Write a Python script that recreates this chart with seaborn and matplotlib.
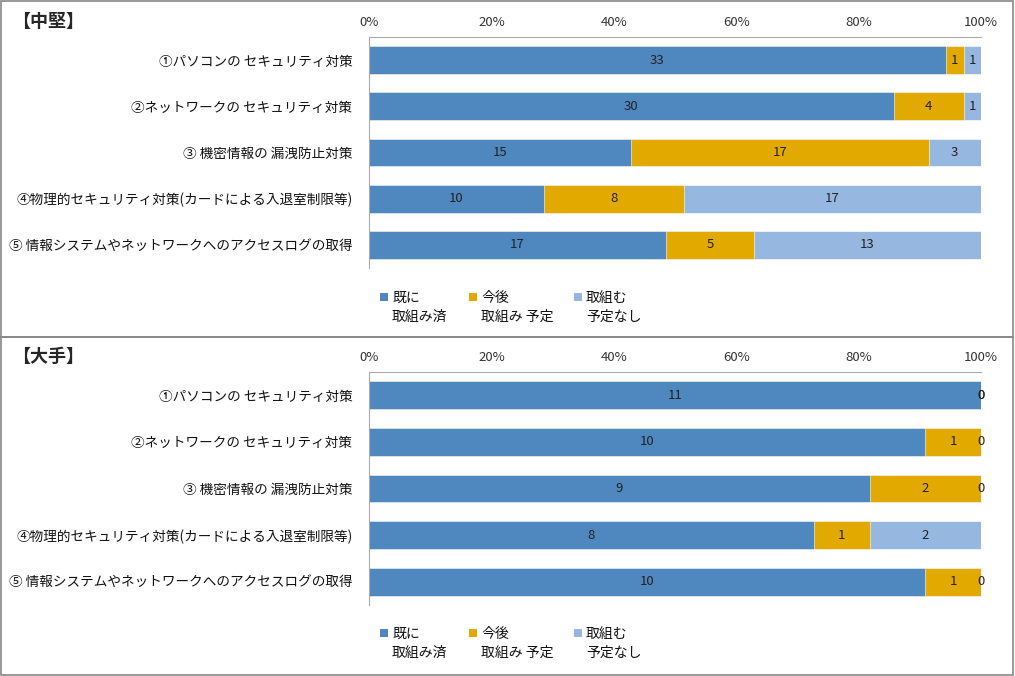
import numpy as np
import pandas as pd
import matplotlib.pyplot as plt
import seaborn as sns
from matplotlib.patches import Rectangle

categories = ["①パソコンの セキュリティ対策",
              "②ネットワークの セキュリティ対策",
              "③ 機密情報の 漏洩防止対策",
              "④物理的セキュリティ対策(カードによる入退室制限等)",
              "⑤ 情報システムやネットワークへのアクセスログの取得"]
series_names = ["既に\n取組み済", "今後\n取組み 予定", "取組む\n予定なし"]
panel_titles = ["【中堅】", "【大手】"]

mid_done = [33, 30, 15, 10, 17]
mid_plan = [1, 4, 17, 8, 5]
mid_none = [1, 1, 3, 17, 13]

big_done = [11, 10, 9, 8, 10]
big_plan = [0, 1, 2, 1, 1]
big_none = [0, 0, 0, 2, 0]

tick_vals = [0, 20, 40, 60, 80, 100]
tick_labels = ["0%", "20%", "40%", "60%", "80%", "100%"]

colors = ["#4F88BE", "#E2A900", "#96B8E0"]

sns.set_style("white")
plt.rcParams['font.family'] = ['Noto Sans CJK JP', 'DejaVu Sans']

W, H = 1015, 676
fig = plt.figure(figsize=(W / 100, H / 100), dpi=100)

# panel frames
fig.patches.append(Rectangle((0.001, 0.5015), 0.997, 0.497, transform=fig.transFigure,
                             fill=False, edgecolor="#888888", lw=1.2))
fig.patches.append(Rectangle((0.001, 0.002), 0.997, 0.4995, transform=fig.transFigure,
                             fill=False, edgecolor="#888888", lw=1.2))

panels = [(mid_done, mid_plan, mid_none), (big_done, big_plan, big_none)]
ax_rects = [[0.3635, 0.6036, 0.603, 0.3417], [0.3635, 0.1050, 0.603, 0.3447]]
title_y = [0.968, 0.472]
legend_top = [297, 633]   # pixel y of first legend line
legend_x = [380, 469, 574]

for (done, plan, none), rect, ty, ly, title in zip(panels, ax_rects, title_y, legend_top, panel_titles):
    ax = fig.add_axes(rect)
    df = pd.DataFrame({"cat": categories, "done": done, "plan": plan, "none": none})
    total = df[["done", "plan", "none"]].sum(axis=1)
    df["p_done"] = df["done"] / total * 100
    df["p_plan"] = df["plan"] / total * 100
    df["p_none"] = df["none"] / total * 100
    df["c1"] = df["p_done"]
    df["c2"] = df["p_done"] + df["p_plan"]
    df["c3"] = df["c2"] + df["p_none"]

    # stacked look by overlaying cumulative bars
    for col, c in zip(["c3", "c2", "c1"], colors[::-1]):
        sns.barplot(data=df, y="cat", x=col, color=c, orient="h", width=0.6,
                    edgecolor="white", linewidth=0.4, saturation=1, ax=ax)

    # value labels centered in each segment
    for i, row in df.iterrows():
        starts = [0, row["c1"], row["c2"]]
        widths = [row["p_done"], row["p_plan"], row["p_none"]]
        vals = [row["done"], row["plan"], row["none"]]
        for s, w, v in zip(starts, widths, vals):
            ax.text(s + w / 2, i, f"{v}", ha="center", va="center",
                    fontsize=9.5, color="#222222")

    ax.set_xlim(0, 100)
    ax.set_xticks(tick_vals)
    ax.set_xticklabels(tick_labels, fontsize=9.5, color="#333333")
    ax.xaxis.tick_top()
    ax.tick_params(axis="x", length=0, pad=6)
    ax.tick_params(axis="y", length=0, pad=12, labelsize=9.8)
    for lab in ax.get_yticklabels():
        lab.set_color("#111111")
    ax.set_xlabel("")
    ax.set_ylabel("")
    for side in ["bottom", "right"]:
        ax.spines[side].set_visible(False)
    ax.spines["top"].set_color("#AAAAAA")
    ax.spines["left"].set_color("#AAAAAA")

    fig.text(0.012, ty, title, fontsize=13, fontweight="bold", va="center", ha="left")

    # legend: square aligned with the first line of a two-line label
    for x0, c, name in zip(legend_x, colors, series_names):
        fig.patches.append(Rectangle((x0 / W, 1 - (ly + 4) / H), 8 / W, 8 / H,
                                     transform=fig.transFigure, facecolor=c, edgecolor="none"))
        fig.text((x0 + 12) / W, 1 - (ly - 6) / H, name, fontsize=10, va="top", ha="left",
                 linespacing=1.45, color="#111111")

fig.savefig("out.png", dpi=100)
